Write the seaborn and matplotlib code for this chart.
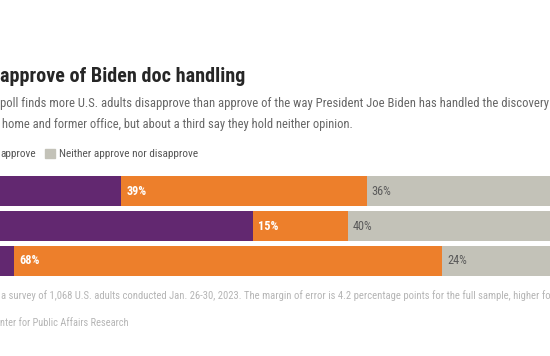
import matplotlib
matplotlib.use('Agg')
import matplotlib.pyplot as plt
from matplotlib.patches import Rectangle
import seaborn as sns
import pandas as pd

# values (percent of U.S. adults)
groups = ['Total', 'Democrats', 'Republicans']
approve = [25, 46, 8]
disapprove = [39, 15, 68]
neither = [36, 40, 24]

purple, orange, grey = '#622870', '#ed7f2b', '#c3c2b8'

df = pd.DataFrame({'group': groups, 'approve': approve,
                   'disapprove': disapprove, 'neither': neither})
# cumulative ends so the bars can be stacked by overdrawing
df['end_app'] = df['approve']
df['end_dis'] = df['approve'] + df['disapprove']
df['end_all'] = df['end_dis'] + df['neither']

sns.set_style('white')
plt.rcParams['font.family'] = ['Roboto Condensed', 'Roboto', 'DejaVu Sans']

W, H = 550, 356
fig = plt.figure(figsize=(5.5, 3.56), dpi=100)


def fx(px):
    return px / W


def fy(py):
    return 1 - py / H


# bar area: 0% sits a little left of the image edge
x0, scale = -36, 6.29
top, bottom = 173.5, 278.5
ax = fig.add_axes([fx(x0), fy(bottom), 100 * scale / W, (bottom - top) / H])
for col, c in [('end_all', grey), ('end_dis', orange), ('end_app', purple)]:
    sns.barplot(data=df, x=col, y='group', color=c, width=30 / 35,
                saturation=1, linewidth=0, ax=ax)
ax.set_xlim(0, 100)
ax.set_ylim(2.5, -0.5)
ax.axis('off')

pad = 5 / scale
for i, r in df.iterrows():
    ax.text(r['end_app'] + pad, i, f"{r['disapprove']}%", color='white',
            fontsize=8.8, fontweight='bold', va='center', ha='left')
    ax.text(r['end_dis'] + pad, i, f"{r['neither']}%", color='#5a5a5a',
            fontsize=8.8, va='center', ha='left')

# header text
fig.text(fx(0), fy(82), 'approve of Biden doc handling', fontsize=14.5,
         fontweight='bold', color='#262626', va='baseline')
fig.text(fx(0), fy(107), 'poll finds more U.S. adults disapprove than approve of the way '
         'President Joe Biden has handled the discovery', fontsize=9.1,
         color='#666666', va='baseline')
fig.text(fx(2), fy(128), 'home and former office, but about a third say they hold neither opinion.',
         fontsize=9.0, color='#666666', va='baseline')

# legend
fig.text(fx(0), fy(157), 'approve', fontsize=8.1, color='#555555', va='baseline')
fig.patches.append(Rectangle((fx(45), fy(158)), 10 / W, 9 / H, color=grey,
                             transform=fig.transFigure, figure=fig))
fig.text(fx(59), fy(157), 'Neither approve nor disapprove', fontsize=8.1,
         color='#555555', va='baseline')

# footer
fig.text(fx(1), fy(299), 'a survey of 1,068 U.S. adults conducted Jan. 26-30, 2023. The margin '
         'of error is 4.2 percentage points for the full sample, higher for', fontsize=7.7,
         color='#b5b5b5', va='baseline')
fig.text(fx(0), fy(326), 'nter for Public Affairs Research', fontsize=7.5,
         color='#b5b5b5', va='baseline')

fig.savefig('out.png', dpi=100)
